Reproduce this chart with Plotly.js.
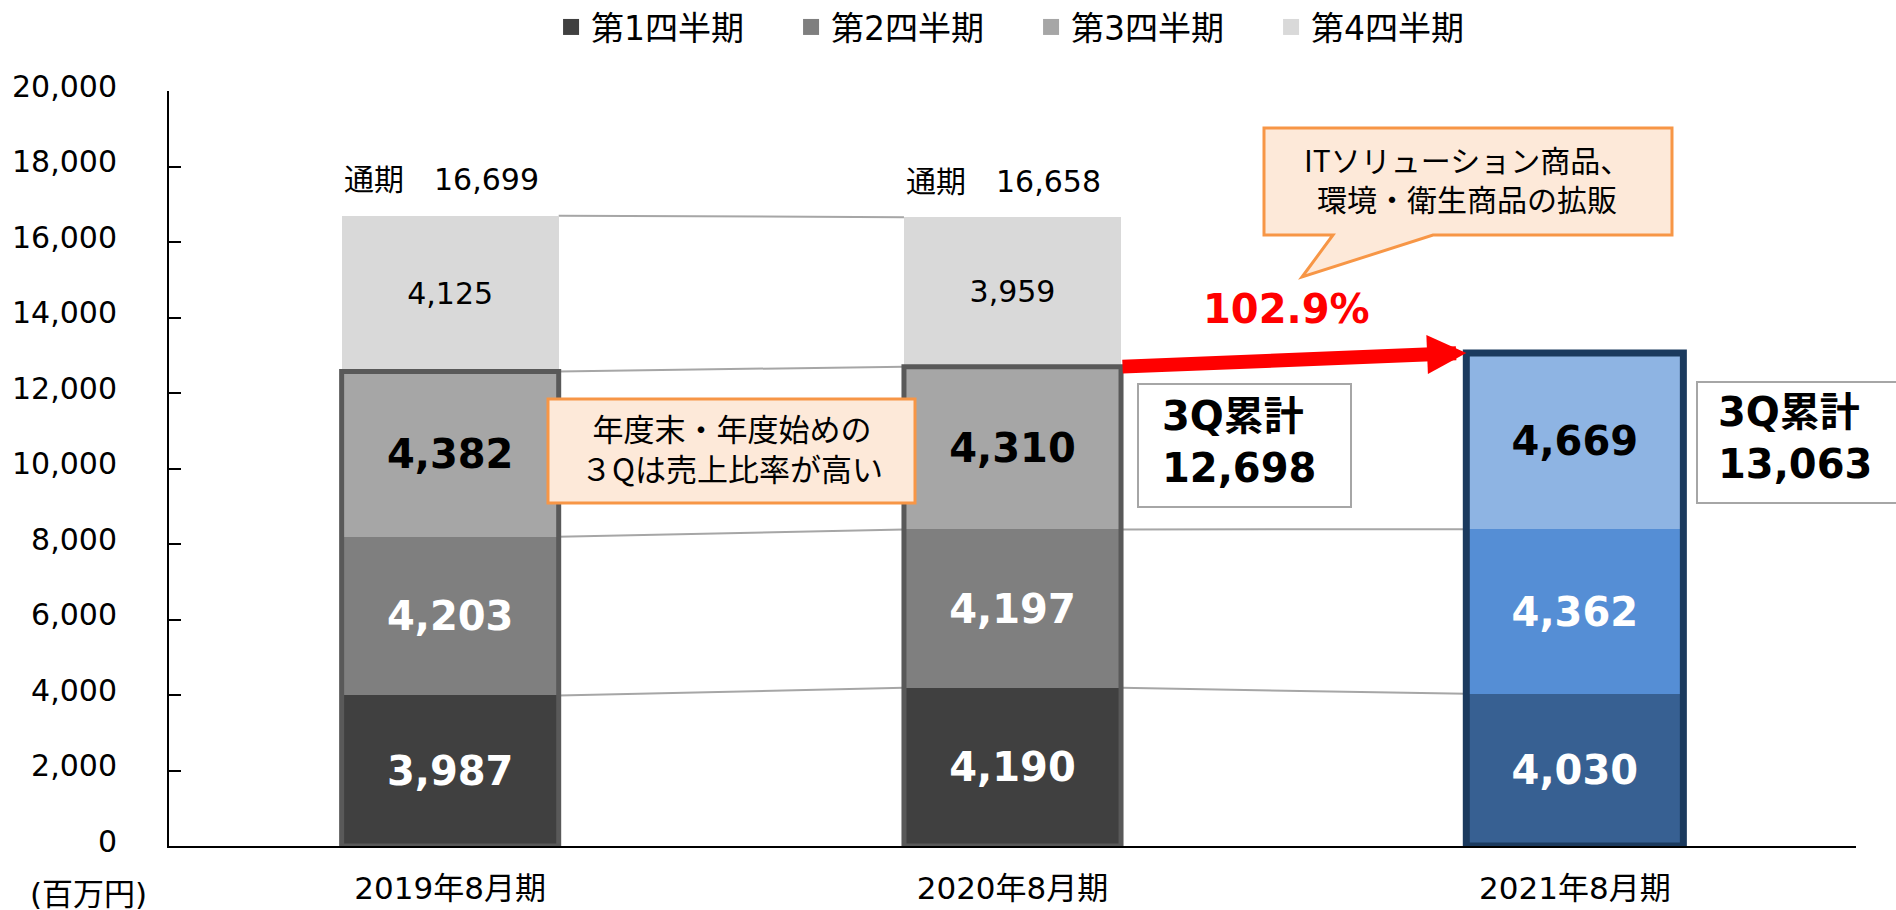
<!DOCTYPE html>
<html>
<head>
<meta charset="utf-8">
<script src="https://cdn.plot.ly/plotly-3.0.1.min.js"></script>
<style>
  html, body { margin: 0; padding: 0; background: #ffffff; }
  #chart { width: 1896px; height: 910px; }
</style>
</head>
<body>
<div id="chart"></div>
<script>
// ---- data ----
const categories = ['2019年8月期', '2020年8月期', '2021年8月期'];
const seriesNames = ['第1四半期', '第2四半期', '第3四半期', '第4四半期'];
const q1 = [3987, 4190, 4030];
const q2 = [4203, 4197, 4362];
const q3 = [4382, 4310, 4669];
const q4 = [4125, 3959, null];
const fullYearTotals = [16699, 16658, null];      // 通期
const q3Cumulative = [null, 12698, 13063];        // 3Q累計
const yTicks = [0, 2000, 4000, 6000, 8000, 10000, 12000, 14000, 16000, 18000, 20000];

// ---- styles ----
const grayColors = ['#404040', '#7F7F7F', '#A6A6A6', '#D9D9D9'];
const blueColors = ['#376092', '#558ED5', '#8EB4E3'];
const FONT = 'DejaVu Sans, "Noto Sans CJK JP", sans-serif';
const CJK = '"Noto Sans CJK JP", "DejaVu Sans", sans-serif';
const BAR_W = 0.386;

// plot-area geometry (pixels) used only to place decorations
const M = {l: 169, r: 40, t: 91, b: 64, autoexpand: false};
const W = 1896, H = 910;
const PW = W - M.l - M.r, PH = H - M.t - M.b;
const px = v => (v - M.l) / PW;
const py = v => (H - M.b - v) / PH;

const quarters = [q1, q2, q3, q4];
const nCat = categories.length;
const xIdx = categories.map((_, i) => i);

// cumulative tops of each stacked segment
const cum = [];
quarters.forEach((q, k) => {
  cum.push(q.map((v, i) => v == null ? null : v + (k > 0 ? cum[k - 1][i] : 0)));
});

const traces = [];
const textColors = ['#FFFFFF', '#FFFFFF', '#000000', '#000000'];
quarters.forEach((q, k) => {
  traces.push({
    type: 'bar',
    x: xIdx,
    y: q,
    width: BAR_W,
    name: seriesNames[k],
    showlegend: false,
    hoverinfo: 'skip',
    marker: {
      color: xIdx.map(i => (i === 2 && k < 3) ? blueColors[k] : grayColors[k]),
      line: {width: 0}
    },
    texttemplate: '%{y:,}',
    textposition: 'inside',
    insidetextanchor: 'middle',
    textangle: 0,
    constraintext: 'none',
    textfont: {
      family: FONT,
      size: k < 3 ? 40 : 30,
      weight: k < 3 ? 'bold' : 'normal',
      color: textColors[k]
    }
  });
});
// legend entries
seriesNames.forEach((n, k) => {
  traces.push({
    type: 'scatter', mode: 'markers', x: [null], y: [null], name: n,
    marker: {symbol: 'square', size: 20, color: grayColors[k]},
    hoverinfo: 'skip', showlegend: true
  });
});

const shapes = [];
// connector lines between bars
for (let i = 0; i < nCat - 1; i++) {
  for (let k = 0; k < 4; k++) {
    if (i === 1 && k === 2) continue; // replaced by red arrow
    const a = cum[k][i], b = cum[k][i + 1];
    if (a == null || b == null) continue;
    shapes.push({
      type: 'line', xref: 'x', yref: 'y', layer: 'below',
      x0: i + BAR_W / 2, x1: i + 1 - BAR_W / 2, y0: a, y1: b,
      line: {color: '#A6A6A6', width: 2}
    });
  }
}
// outline around Q1..Q3
for (let i = 0; i < nCat; i++) {
  shapes.push({
    type: 'rect', xref: 'x', yref: 'y', layer: 'above',
    x0: i - BAR_W / 2, x1: i + BAR_W / 2, y0: 0, y1: cum[2][i],
    line: {color: i === 2 ? '#1B3A5E' : '#595959', width: i === 2 ? 7 : 5}
  });
}
// note box 1
shapes.push({
  type: 'rect', xref: 'paper', yref: 'paper', layer: 'above',
  x0: px(548), x1: px(915), y0: py(503), y1: py(399),
  fillcolor: '#FDE9D9', line: {color: '#F79646', width: 3}
});
// callout 2 with tail
const cPts = [[1264,128],[1672,128],[1672,235],[1433,235],[1302,277],[1333,235],[1264,235]];
shapes.push({
  type: 'path', xref: 'paper', yref: 'paper', layer: 'above',
  path: 'M' + cPts.map(p => px(p[0]).toFixed(5) + ',' + py(p[1]).toFixed(5)).join('L') + 'Z',
  fillcolor: '#FDE9D9', line: {color: '#F79646', width: 3}
});
// 3Q boxes
shapes.push({
  type: 'rect', xref: 'paper', yref: 'paper', layer: 'above',
  x0: px(1138), x1: px(1351), y0: py(507), y1: py(384),
  fillcolor: '#FFFFFF', line: {color: '#A6A6A6', width: 2}
});
shapes.push({
  type: 'rect', xref: 'paper', yref: 'paper', layer: 'above',
  x0: px(1697), x1: px(1915), y0: py(503), y1: py(382),
  fillcolor: '#FFFFFF', line: {color: '#A6A6A6', width: 2}
});

const fmt = v => v.toLocaleString('en-US');
const growth = (q3Cumulative[2] / q3Cumulative[1] * 100).toFixed(1) + '%';

const annotations = [];
// 通期 labels
fullYearTotals.forEach((t, i) => {
  if (t == null) return;
  annotations.push({
    xref: 'x', yref: 'y', x: i, y: cum[3][i], xanchor: 'center', yanchor: 'middle',
    yshift: 36, xshift: -9, showarrow: false,
    text: '通期　' + fmt(t), font: {family: FONT, size: 30, color: '#000'}
  });
});
// red arrow
annotations.push({
  xref: 'x', yref: 'y', axref: 'x', ayref: 'y',
  x: 2 - BAR_W / 2, y: cum[2][2], ax: 1 + BAR_W / 2, ay: cum[2][1],
  showarrow: true, arrowhead: 2, arrowsize: 0.56, arrowwidth: 14, arrowcolor: '#FF0000', text: ''
});
annotations.push({
  xref: 'paper', yref: 'paper', x: px(1286), y: py(309), xanchor: 'center', yanchor: 'middle',
  showarrow: false, text: growth, font: {family: FONT, size: 40, weight: 'bold', color: '#FF0000'}
});
// note texts
const note = (t, x, y, size) => annotations.push({
  xref: 'paper', yref: 'paper', x: px(x), y: py(y), xanchor: 'center', yanchor: 'middle',
  align: 'center', showarrow: false, text: t, font: {family: CJK, size: size, color: '#000'}
});
note('年度末・年度始めの<br>３Qは売上比率が高い', 732, 448, 31);
note('ITソリューション商品、<br>環境・衛生商品の拡販', 1467, 179, 30);
// 3Q cumulative texts
const boxText = (t, x, y) => annotations.push({
  xref: 'paper', yref: 'paper', x: px(x), y: py(y), xanchor: 'left', yanchor: 'middle',
  align: 'left', showarrow: false, text: t, font: {family: FONT, size: 40, weight: 'bold', color: '#000'}
});
boxText('3Q累計<br>' + fmt(q3Cumulative[1]), 1160, 442);
boxText('3Q累計<br>' + fmt(q3Cumulative[2]), 1716, 438);
// unit label
annotations.push({
  xref: 'paper', yref: 'paper', x: px(28), y: py(894), xanchor: 'left', yanchor: 'middle',
  showarrow: false, text: '(百万円)', font: {family: FONT, size: 31, color: '#000'}
});

const layout = {
  width: W, height: H,
  margin: M,
  paper_bgcolor: '#FFFFFF', plot_bgcolor: '#FFFFFF',
  barmode: 'stack',
  font: {family: FONT, color: '#000'},
  showlegend: true,
  legend: {
    orientation: 'h', x: 0.511, xanchor: 'center', y: py(-1), yanchor: 'top',
    font: {family: FONT, size: 33, color: '#000'},
    entrywidth: 195, entrywidthmode: 'pixels', traceorder: 'normal',
    bgcolor: 'rgba(0,0,0,0)'
  },
  xaxis: {
    type: 'linear', range: [-0.5, 2.5],
    tickvals: xIdx, ticktext: categories,
    showline: true, linecolor: '#000', linewidth: 2,
    ticks: '', showgrid: false, zeroline: false,
    tickfont: {family: FONT, size: 31, color: '#000'},
    ticklabelstandoff: 14
  },
  yaxis: {
    range: [0, 20000], tickvals: yTicks, tickformat: ',',
    showline: true, linecolor: '#000', linewidth: 2,
    ticks: 'inside', ticklen: 12, tickwidth: 2, tickcolor: '#000',
    showgrid: false, zeroline: false,
    tickfont: {family: FONT, size: 30, color: '#000'},
    ticklabelstandoff: 44, ticklabelshift: -5
  },
  shapes: shapes,
  annotations: annotations
};

Plotly.newPlot('chart', traces, layout, {staticPlot: true, displayModeBar: false});
</script>
</body>
</html>
